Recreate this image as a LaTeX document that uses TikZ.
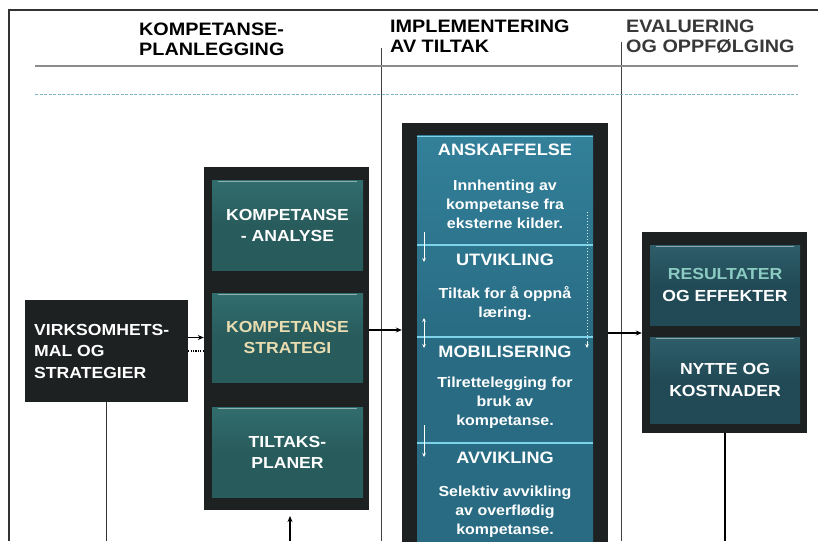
\documentclass[tikz,border=0pt]{standalone}
\usepackage{fontspec}
\setmainfont{Liberation Sans}[FakeStretch=1.1]
\usetikzlibrary{arrows.meta}

\definecolor{frame}{HTML}{1E2121}
\definecolor{tealA}{HTML}{285B5C}
\definecolor{tealAtop}{HTML}{326D6E}
\definecolor{blueP}{HTML}{286B82}
\definecolor{bluePtop}{HTML}{33809A}
\definecolor{tealB}{HTML}{214A56}
\definecolor{tealBtop}{HTML}{2E5E6A}
\definecolor{sepline}{HTML}{7FD3E8}
\definecolor{straw}{HTML}{E8DCB0}
\definecolor{mint}{HTML}{8CCBC2}
\definecolor{dashblue}{HTML}{7FB5C8}

\tikzset{
  head/.style={font=\bfseries\fontsize{18}{20}\selectfont, align=left, anchor=north west, inner sep=0pt},
  holder/.style={fill=frame, draw=none, inner sep=0pt},
  tealbox/.style={top color=tealAtop, bottom color=tealA, middle color=tealA, inner sep=0pt,
    minimum width=151pt, text=white, align=center, font=\bfseries\fontsize{16}{21}\selectfont},
  rbox/.style={top color=tealBtop, bottom color=tealB, middle color=tealB, inner sep=0pt,
    minimum width=150pt, text=white, align=center, font=\bfseries\fontsize{16}{22}\selectfont},
  ptitle/.style={text=white, font=\bfseries\fontsize{16.5}{20}\selectfont, inner sep=0pt},
  pdesc/.style={text=white, align=center, font=\bfseries\fontsize{14.5}{19}\selectfont, inner sep=0pt},
  link/.style={-{Stealth[length=6pt,width=5pt]}, line width=1.1pt, black},
  small/.style={{Stealth[length=4pt,width=3.5pt]}-{Stealth[length=4pt,width=3.5pt]}, white, line width=0.6pt},
  down/.style={-{Stealth[length=4pt,width=3.5pt]}, white, line width=0.6pt},
}

\begin{document}
\begin{tikzpicture}[x=1pt,y=-1pt]
\useasboundingbox (0,0) rectangle (818,541);
\clip (0,0) rectangle (818,541);
\fill[white] (0,0) rectangle (818,541);

% frame and column guides
\coordinate (tl) at (9,10);
\coordinate (tr) at (818,10);
\coordinate (bl) at (9,541);
\draw[line width=1.4pt, black!80] (tr) -- (tl) -- (bl);
\coordinate (g1) at (381,48);
\coordinate (g2) at (621,42);
\draw[line width=0.9pt, black!75] (g1) -- (g1 |- bl);
\draw[line width=0.9pt, black!75] (g2) -- (g2 |- bl);
\coordinate (h1) at (35,66);
\coordinate (h2) at (798,66);
\draw[line width=1.3pt, black!45] (h1) -- (h2);
\coordinate (d1) at (35,94);
\coordinate (d2) at (798,94);
\draw[dashblue, line width=1pt, dash pattern=on 3pt off 1.5pt] (d1) -- (d2);

% column headings
\node[head] (t1) at (139,23) {KOMPETANSE-\\PLANLEGGING};
\node[head] (t2) at (390,20) {IMPLEMENTERING\\AV TILTAK};
\node[head, text=black!78] (t3) at (626,20) {EVALUERING\\OG OPPFØLGING};

% business goals
\node[holder, minimum width=163pt, minimum height=102pt] (lb) at (106.5,351) {};
\node[text=white, align=left, anchor=west, inner sep=0pt, font=\bfseries\fontsize{16}{21.5}\selectfont]
  (lbt) at (34,351) {VIRKSOMHETS-\\MAL OG\\STRATEGIER};

% planning column
\node[holder, minimum width=165pt, minimum height=343pt] (mid) at (286.5,338.5) {};
\node[tealbox, minimum height=90pt] (k1) at (287.5,225) {KOMPETANSE\\- ANALYSE};
\node[tealbox, minimum height=89pt, text=straw] (k2) at (287.5,337.5) {KOMPETANSE\\STRATEGI};
\node[tealbox, minimum height=90pt] (k3) at (287.5,452) {TILTAKS-\\PLANER};
\foreach \b in {k1,k2,k3}{
  \draw[tealAtop!55!white, line width=1pt] ([xshift=6pt,yshift=-1.5pt]\b.north west) -- ([xshift=-6pt,yshift=-1.5pt]\b.north east);
}

% implementation column
\node[holder, minimum width=206pt, minimum height=440pt] (imp) at (505,343) {};
\node[top color=bluePtop, bottom color=blueP, middle color=blueP, inner sep=0pt,
  minimum width=176pt, minimum height=425pt] (pan) at (505,347.5) {};
\coordinate (s1) at (417,245);
\coordinate (s2) at (417,337);
\coordinate (s3) at (417,443);
\draw[sepline, line width=1.2pt] ([yshift=-1.5pt]pan.north west) -- ([yshift=-1.5pt]pan.north east);
\foreach \s in {s1,s2,s3}{
  \draw[sepline, line width=1.4pt] (\s) -- (\s -| pan.east);
}
\node[ptitle] (p1) at (505,150) {ANSKAFFELSE};
\node[pdesc] (p1d) at (505,204) {Innhenting av\\kompetanse fra\\eksterne kilder.};
\node[ptitle] (p2) at (505,260) {UTVIKLING};
\node[pdesc] (p2d) at (505,304) {Tiltak for å oppnå\\læring.};
\node[ptitle] (p3) at (505,352) {MOBILISERING};
\node[pdesc] (p3d) at (505,403) {Tilrettelegging for\\bruk av\\kompetanse.};
\node[ptitle] (p4) at (505,458) {AVVIKLING};
\node[pdesc] (p4d) at (505,512) {Selektiv avvikling\\av overflødig\\kompetanse.};

% flow markers inside the panel
\coordinate (a1) at (424,232);
\coordinate (a1e) at (424,262);
\coordinate (a2) at (424,318);
\coordinate (a2e) at (424,348);
\coordinate (a3) at (424,425);
\coordinate (a3e) at (424,457);
\coordinate (r1) at (587,212);
\coordinate (r1e) at (587,348);
\draw[down] (a1) -- (a1e);
\draw[small] (a2) -- (a2e);
\draw[down] (a3) -- (a3e);
\draw[white!85!blueP, line width=1pt, dash pattern=on 1pt off 2pt] (r1) -- ([yshift=4pt]r1e);
\draw[down, line width=0.9pt] ([yshift=6pt]r1e) -- (r1e);

% evaluation column
\node[holder, minimum width=165pt, minimum height=201pt] (ev) at (724.5,332.5) {};
\node[rbox, minimum height=80pt] (e1) at (725,285) {\textcolor{mint}{RESULTATER}\\OG EFFEKTER};
\node[rbox, minimum height=86pt] (e2) at (725,380) {NYTTE OG\\KOSTNADER};
\foreach \b in {e1,e2}{
  \draw[tealBtop!55!white, line width=1pt] ([xshift=6pt,yshift=-1.5pt]\b.north west) -- ([xshift=-6pt,yshift=-1.5pt]\b.north east);
}

% connectors
\coordinate (bot) at (0,541);
\draw[link] (lb.east |- k2.center) -- (mid.west |- k2.center);
\draw[line width=1.2pt, dash pattern=on 1.2pt off 1.2pt] (lb.east) -- (mid.west |- lb.east);
\coordinate (y1) at (0,330);
\draw[link] (mid.east |- y1) -- (imp.west |- y1);
\coordinate (y2) at (0,333);
\draw[link] (imp.east |- y2) -- (ev.west |- y2);
\coordinate (up1) at (290,541);
\coordinate (up1e) at (290,516);
\draw[link] (up1) -- (up1e);
\draw[line width=1pt, black!80] (lb.south) -- (lb.south |- bot);
\draw[line width=2pt, black] (ev.south) -- (ev.south |- bot);
\end{tikzpicture}
\end{document}
